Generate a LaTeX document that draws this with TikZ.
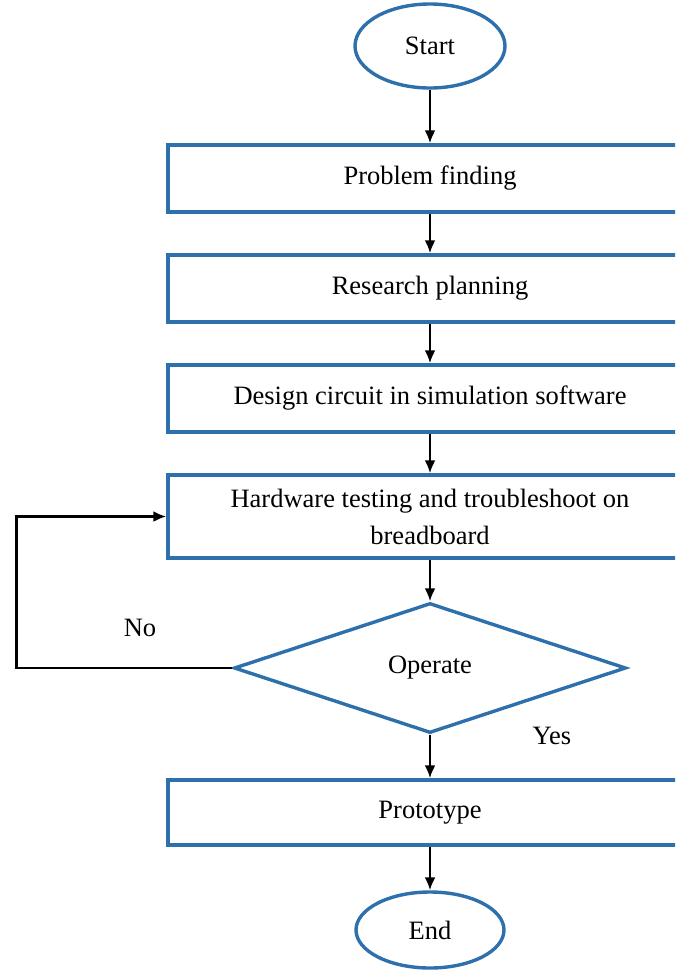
\documentclass[tikz,border=0pt]{standalone}
\usepackage{fontspec}
\setmainfont{Liberation Serif}
\usetikzlibrary{shapes,arrows.meta}

\begin{document}
\begin{tikzpicture}[x=1pt,y=-1pt]
\tikzstyle{every node} = [font=\fontsize{26.5}{37}\selectfont]
\tikzstyle{flow} = [draw=flowblue,line width=3.4pt,fill=white]
\tikzstyle{stepbox} = [flow,rectangle,minimum width=524pt]
\tikzstyle{link} = [draw,line width=2.4pt,-{Latex[length=13pt,width=11pt]}]
\definecolor{flowblue}{RGB}{46,112,172}

\clip (0,0) rectangle (675,975);

\node[flow,ellipse,minimum width=150pt,minimum height=84pt] (start) at (430,46) {Start};
\node[stepbox,minimum height=67pt] (find) at (430,178.5) {Problem finding};
\node[stepbox,minimum height=67pt] (plan) at (430,288.5) {Research planning};
\node[stepbox,minimum height=67pt] (design) at (430,398.5) {Design circuit in simulation software};
\node[stepbox,minimum height=83pt,align=center] (test) at (430,516.5) {Hardware testing and troubleshoot on\\breadboard};
\node[flow,diamond,inner sep=0pt,minimum width=392pt,minimum height=130pt] (operate) at (430,668) {Operate};
\node[stepbox,minimum height=65pt] (proto) at (430,812.5) {Prototype};
\node[flow,ellipse,minimum width=148pt,minimum height=76pt] (end) at (430,930) {End};

\draw[link] (start) -- (find);
\draw[link] (find) -- (plan);
\draw[link] (plan) -- (design);
\draw[link] (design) -- (test);
\draw[link] (test) -- (operate);
\draw[link] (operate) -- (proto);
\draw[link] (proto) -- (end);
\draw[link] (operate.west) -- ++(-216,0) |- (test.west);

\node (no) at (140,628) {No};
\node (yes) at (552,736) {Yes};

\end{tikzpicture}
\end{document}
